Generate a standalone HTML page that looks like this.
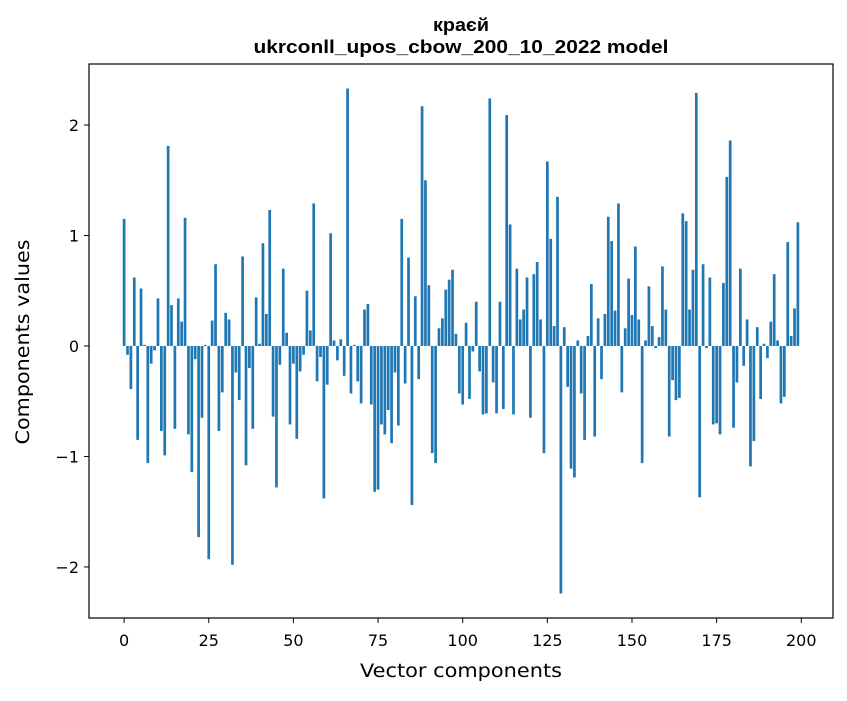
<!DOCTYPE html>
<html><head><meta charset="utf-8"><style>
body{margin:0;background:#fff}
svg text{font-family:"DejaVu Sans","Liberation Sans",sans-serif;fill:#000}
</style></head><body>
<svg id="chart" width="847" height="696" xmlns="http://www.w3.org/2000/svg">
<rect width="847" height="696" fill="#fff"/>
<text x="461" y="31" text-anchor="middle" font-size="18" font-weight="bold" style="font-family:'Liberation Sans',sans-serif" textLength="56" lengthAdjust="spacingAndGlyphs">краєй</text>
<text x="461" y="53" text-anchor="middle" font-size="18" font-weight="bold" style="font-family:'Liberation Sans',sans-serif" textLength="415" lengthAdjust="spacingAndGlyphs">ukrconll_upos_cbow_200_10_2022 model</text>
<g id="bars"></g>
<g id="xticks"></g>
<g id="yticks"></g>
<rect x="89" y="64" width="744" height="554" fill="none" stroke="#000" stroke-width="1.2"/>
<text x="461" y="677" text-anchor="middle" font-size="18.5" textLength="202" lengthAdjust="spacingAndGlyphs">Vector components</text>
<text x="0" y="0" transform="translate(29,342) rotate(-90)" text-anchor="middle" font-size="18.5" textLength="205" lengthAdjust="spacingAndGlyphs">Components values</text>
</svg>
<script>
const values = [1.15,-0.08,-0.39,0.62,-0.85,0.52,0.01,-1.06,-0.16,-0.04,
0.43,-0.77,-0.99,1.81,0.37,-0.75,0.43,0.22,1.16,-0.80,
-1.14,-0.12,-1.73,-0.65,0.01,-1.93,0.23,0.74,-0.77,-0.42,
0.30,0.24,-1.98,-0.24,-0.49,0.81,-1.08,-0.20,-0.75,0.44,
0.02,0.93,0.29,1.23,-0.64,-1.28,-0.17,0.70,0.12,-0.71,
-0.16,-0.84,-0.23,-0.08,0.50,0.14,1.29,-0.32,-0.10,-1.38,
-0.35,1.02,0.05,-0.13,0.06,-0.27,2.33,-0.43,0.01,-0.32,
-0.52,0.33,0.38,-0.53,-1.32,-1.30,-0.71,-0.80,-0.58,-0.88,
-0.24,-0.72,1.15,-0.34,0.80,-1.44,0.45,-0.30,2.17,1.50,
0.55,-0.97,-1.06,0.16,0.25,0.51,0.60,0.69,0.11,-0.43,
-0.53,0.21,-0.48,-0.05,0.40,-0.23,-0.62,-0.61,2.24,-0.33,
-0.61,0.40,-0.57,2.09,1.10,-0.62,0.70,0.24,0.33,0.62,
-0.65,0.65,0.76,0.24,-0.97,1.67,0.97,0.18,1.35,-2.24,
0.17,-0.37,-1.11,-1.19,0.05,-0.43,-0.85,0.09,0.56,-0.82,
0.25,-0.30,0.29,1.17,0.95,0.32,1.29,-0.42,0.16,0.61,
0.28,0.90,0.24,-1.06,0.05,0.54,0.18,-0.02,0.08,0.72,
0.33,-0.82,-0.31,-0.49,-0.47,1.20,1.13,0.33,0.69,2.29,
-1.37,0.74,-0.02,0.62,-0.71,-0.70,-0.80,0.57,1.53,1.86,
-0.74,-0.33,0.70,-0.18,0.24,-1.09,-0.86,0.17,-0.48,0.02,
-0.11,0.22,0.65,0.05,-0.52,-0.46,0.94,0.09,0.34,1.12];
const xTickLabels = [0,25,50,75,100,125,150,175,200];
const yTickLabels = [-2,-1,0,1,2];

const X0=89,X1=833,XMIN=-10.37,XMAX=209.37;
const Y0=64,Y1=618,YMAX=2.552,YMIN=-2.462;
function xs(v){return X0+(v-XMIN)/(XMAX-XMIN)*(X1-X0);}
function ys(v){return Y0+(YMAX-v)/(YMAX-YMIN)*(Y1-Y0);}
const NS="http://www.w3.org/2000/svg";
const gb=document.getElementById('bars');
values.forEach((v,i)=>{
  const r=document.createElementNS(NS,'rect');
  const x=xs(i-0.4), w=xs(i+0.4)-x;
  const y=Math.min(ys(v),ys(0)), h=Math.abs(ys(v)-ys(0));
  r.setAttribute('x',x);r.setAttribute('y',y);r.setAttribute('width',w);r.setAttribute('height',h);
  r.setAttribute('fill','#1f77b4');
  
  
  gb.appendChild(r);
});
const gx=document.getElementById('xticks');
xTickLabels.forEach(t=>{
  const l=document.createElementNS(NS,'line');
  l.setAttribute('x1',xs(t));l.setAttribute('x2',xs(t));l.setAttribute('y1',618);l.setAttribute('y2',623);
  l.setAttribute('stroke','#000');
  
  
  gx.appendChild(l);
  const tx=document.createElementNS(NS,'text');
  tx.setAttribute('x',xs(t));tx.setAttribute('y',646);tx.setAttribute('text-anchor','middle');tx.setAttribute('font-size','16');
  tx.textContent=t;
  
  
  gx.appendChild(tx);
});
const gy=document.getElementById('yticks');
yTickLabels.forEach(t=>{
  const l=document.createElementNS(NS,'line');
  l.setAttribute('x1',84);l.setAttribute('x2',89);l.setAttribute('y1',ys(t));l.setAttribute('y2',ys(t));
  l.setAttribute('stroke','#000');
  
  
  gy.appendChild(l);
  const tx=document.createElementNS(NS,'text');
  tx.setAttribute('x',79);tx.setAttribute('y',ys(t)+6);tx.setAttribute('text-anchor','end');tx.setAttribute('font-size','16');
  tx.textContent=t<0?'\u2212'+Math.abs(t):String(t);
  
  
  gy.appendChild(tx);
});
</script>
</body></html>
